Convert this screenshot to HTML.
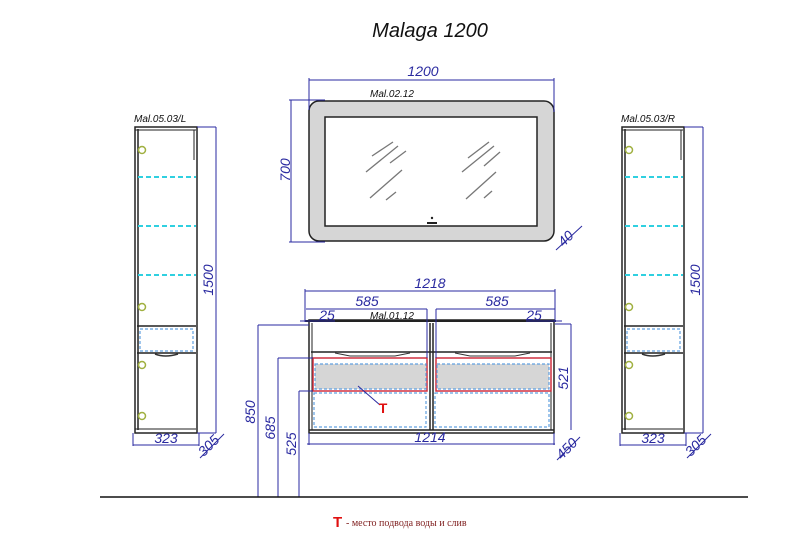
<!DOCTYPE html>
<html><head><meta charset="utf-8"><style>
html,body{margin:0;padding:0;background:#fff;width:800px;height:541px;overflow:hidden}
svg{display:block}
.d{stroke:#2a2aa0;stroke-width:1;fill:none}
.t{font-family:"Liberation Sans",sans-serif;font-style:italic;fill:#2a2aa0;font-size:14px}
.k{stroke:#222;fill:none}
.cy{stroke:#30d0e0;stroke-width:2;stroke-dasharray:5,3}
.bd{stroke:#60a0e0;stroke-width:1.2;stroke-dasharray:3,2;fill:none}
.ol{stroke:#a0b040;stroke-width:1.5;fill:none}
</style></head><body>
<svg width="800" height="541" viewBox="0 0 800 541">
<text x="430" y="37" text-anchor="middle" font-family="Liberation Sans,sans-serif" font-style="italic" font-size="20" fill="#111">Malaga 1200</text>

<!-- Mirror -->
<rect x="309" y="101" width="245" height="140" rx="10" fill="#d6d6d6" stroke="#222" stroke-width="1.5"/>
<rect x="325" y="117" width="212" height="109" fill="#fff" stroke="#222" stroke-width="1.5"/>
<g stroke="#777" stroke-width="1.3">
<line x1="372" y1="156" x2="393" y2="142"/><line x1="366" y1="172" x2="398" y2="146"/><line x1="390" y1="163" x2="406" y2="151"/>
<line x1="370" y1="198" x2="402" y2="170"/><line x1="386" y1="200" x2="396" y2="192"/>
<line x1="468" y1="158" x2="489" y2="142"/><line x1="462" y1="172" x2="494" y2="146"/><line x1="484" y1="166" x2="500" y2="152"/>
<line x1="466" y1="199" x2="496" y2="172"/><line x1="484" y1="198" x2="492" y2="191"/>
</g>
<rect x="427" y="222" width="10" height="2" fill="#222"/><circle cx="432" cy="218" r="1.2" fill="#222"/>
<line class="d" x1="309" y1="80" x2="554" y2="80"/><line class="d" x1="309" y1="78" x2="309" y2="110"/><line class="d" x1="554" y1="78" x2="554" y2="112"/>
<text class="t" x="423" y="76" text-anchor="middle">1200</text>
<line class="d" x1="291" y1="100" x2="291" y2="242"/><line class="d" x1="289" y1="100" x2="325" y2="100"/><line class="d" x1="289" y1="242" x2="325" y2="242"/>
<text class="t" transform="translate(290,170) rotate(-90)" text-anchor="middle">700</text>
<text x="370" y="97" font-family="Liberation Sans,sans-serif" font-style="italic" font-size="10" fill="#111">Mal.02.12</text>
<line class="d" x1="556" y1="250" x2="582" y2="226"/>
<text class="t" transform="translate(569,242) rotate(-45)" text-anchor="middle">40</text>

<!-- Left column -->
<g id="col">
<rect x="135" y="127" width="62" height="306" fill="#fff" stroke="#222" stroke-width="1.5"/>
<line class="k" x1="138" y1="129" x2="138" y2="430" stroke-width="1.5"/>
<line class="k" x1="135" y1="130" x2="196" y2="130"/>
<line class="k" x1="135" y1="429" x2="196" y2="429"/>
<line class="k" x1="194" y1="130" x2="194" y2="160"/>
<line class="cy" x1="138" y1="177" x2="196" y2="177"/>
<line class="cy" x1="138" y1="226" x2="196" y2="226"/>
<line class="cy" x1="138" y1="275" x2="196" y2="275"/>
<line class="k" x1="137" y1="326" x2="196" y2="326" stroke-width="1.5"/>
<rect class="bd" x="140" y="329" width="53" height="22"/>
<line class="k" x1="137" y1="353" x2="196" y2="353" stroke-width="1.5"/>
<path d="M155,354 Q165,358 178,354" stroke="#333" fill="none" stroke-width="1.5"/>
<circle class="ol" cx="142" cy="150" r="3.5"/><circle class="ol" cx="142" cy="307" r="3.5"/><circle class="ol" cx="142" cy="365" r="3.5"/><circle class="ol" cx="142" cy="416" r="3.5"/>
<line class="d" x1="197" y1="127" x2="216" y2="127"/><line class="d" x1="216" y1="127" x2="216" y2="433"/><line class="d" x1="197" y1="433" x2="216" y2="433"/>
<line class="d" x1="133" y1="433" x2="133" y2="446"/><line class="d" x1="199" y1="433" x2="199" y2="446"/><line class="d" x1="133" y1="445" x2="199" y2="445"/>
<text class="t" x="166" y="443" text-anchor="middle">323</text>
<line class="d" x1="200" y1="458" x2="224" y2="434"/>
<text class="t" transform="translate(212,449) rotate(-45)" text-anchor="middle">305</text>
<text class="t" transform="translate(213,280) rotate(-90)" text-anchor="middle">1500</text>
</g>
<text x="134" y="122" font-family="Liberation Sans,sans-serif" font-style="italic" font-size="10" fill="#111">Mal.05.03/L</text>
<use href="#col" x="487"/>
<text x="621" y="122" font-family="Liberation Sans,sans-serif" font-style="italic" font-size="10" fill="#111">Mal.05.03/R</text>

<!-- Vanity -->
<rect x="309" y="320" width="245" height="113" fill="#fff" stroke="#222" stroke-width="1.5"/>
<line class="k" x1="305" y1="321" x2="556" y2="321" stroke-width="2"/>
<line class="k" x1="309" y1="430" x2="554" y2="430" stroke-width="1.5"/>
<line class="k" x1="312" y1="323" x2="312" y2="430"/><line class="k" x1="551" y1="323" x2="551" y2="430"/>
<line class="k" x1="430" y1="323" x2="430" y2="430" stroke-width="1.5"/><line class="k" x1="433" y1="323" x2="433" y2="430" stroke-width="1.5"/>
<line class="k" x1="311" y1="352" x2="552" y2="352" stroke-width="1.5"/>
<path d="M335,353 L350,356 L395,356 L410,353" stroke="#333" fill="none"/>
<path d="M455,353 L470,356 L515,356 L530,353" stroke="#333" fill="none"/>
<rect x="313" y="358" width="114" height="33" fill="none" stroke="#d03040" stroke-width="1.5"/>
<rect x="436" y="358" width="115" height="33" fill="none" stroke="#d03040" stroke-width="1.5"/>
<rect class="bd" x="315" y="364" width="111" height="25" style="fill:#d6d6d6"/>
<rect class="bd" x="437" y="364" width="112" height="25" style="fill:#d6d6d6"/>
<rect class="bd" x="314" y="393" width="112" height="34"/>
<rect class="bd" x="435" y="393" width="114" height="34"/>
<line x1="358" y1="386" x2="380" y2="405" stroke="#2a2aa0"/>
<text x="383" y="413" text-anchor="middle" font-family="Liberation Sans,sans-serif" font-weight="bold" font-size="14" fill="#e01010">T</text>
<!-- dims -->
<line class="d" x1="305" y1="291" x2="555" y2="291"/><line class="d" x1="305" y1="289" x2="305" y2="322"/><line class="d" x1="555" y1="289" x2="555" y2="322"/>
<text class="t" x="430" y="288" text-anchor="middle">1218</text>
<line class="d" x1="306" y1="309" x2="427" y2="309"/><line class="d" x1="427" y1="309" x2="427" y2="358"/>
<line class="d" x1="436" y1="309" x2="555" y2="309"/><line class="d" x1="436" y1="309" x2="436" y2="358"/>
<text class="t" x="367" y="306" text-anchor="middle">585</text><text class="t" x="497" y="306" text-anchor="middle">585</text>
<line class="d" x1="300" y1="321" x2="335" y2="321"/><line class="d" x1="526" y1="321" x2="562" y2="321"/>
<text class="t" x="327" y="320" text-anchor="middle">25</text><text class="t" x="534" y="320" text-anchor="middle">25</text>
<text x="370" y="319" font-family="Liberation Sans,sans-serif" font-style="italic" font-size="10" fill="#111">Mal.01.12</text>
<line class="d" x1="309" y1="433" x2="309" y2="445"/><line class="d" x1="554" y1="433" x2="554" y2="445"/><line class="d" x1="307" y1="444" x2="555" y2="444"/>
<text class="t" x="430" y="442" text-anchor="middle">1214</text>
<line class="d" x1="555" y1="324" x2="571" y2="324"/><line class="d" x1="571" y1="324" x2="571" y2="430"/>
<text class="t" transform="translate(568,378) rotate(-90)" text-anchor="middle">521</text>
<line class="d" x1="557" y1="460" x2="580" y2="437"/>
<text class="t" transform="translate(570,452) rotate(-45)" text-anchor="middle">450</text>
<line class="d" x1="258" y1="325" x2="309" y2="325"/><line class="d" x1="258" y1="325" x2="258" y2="497"/>
<text class="t" transform="translate(255,412) rotate(-90)" text-anchor="middle">850</text>
<line class="d" x1="278" y1="358" x2="313" y2="358"/><line class="d" x1="278" y1="358" x2="278" y2="497"/>
<text class="t" transform="translate(275,428) rotate(-90)" text-anchor="middle">685</text>
<line class="d" x1="299" y1="391" x2="313" y2="391"/><line class="d" x1="299" y1="391" x2="299" y2="497"/>
<text class="t" transform="translate(296,444) rotate(-90)" text-anchor="middle">525</text>
<line x1="100" y1="497" x2="748" y2="497" stroke="#111" stroke-width="1.5"/>
<text x="333" y="527" font-family="Liberation Sans,sans-serif" font-weight="bold" font-size="15" fill="#e01010">T</text>
<text x="346" y="526" font-family="Liberation Serif,serif" font-size="10" fill="#802020">- место подвода воды и слив</text>
</svg>
</body></html>
